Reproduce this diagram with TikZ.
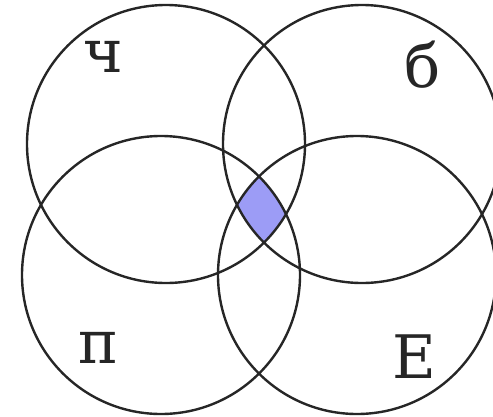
\documentclass[tikz,border=0pt]{standalone}
\usepackage{fontspec}
\setmainfont{DejaVu Serif}
\usepackage{tikz}
\usepackage{xcolor}
\definecolor{SetLine}{HTML}{262626}
\definecolor{SetFill}{HTML}{9C9CF6}

\begin{document}
\begin{tikzpicture}[
    x=1pt, y=-1pt,
    every node/.style={inner sep=0pt},
    setcircle/.style={draw=SetLine, line width=2.4pt, circle, minimum size=278pt},
    setname/.style={font=\fontsize{60}{60}\selectfont, text=SetLine}
  ]
    \useasboundingbox (0,0) rectangle (493,416);

    % common part of the four sets
    \begin{scope}
      \clip (166,144) circle[radius=139pt];
      \clip (362,144) circle[radius=139pt];
      \clip (161,275) circle[radius=139pt];
      \fill[SetFill] (357,275) circle[radius=139pt];
    \end{scope}

    \node[setcircle] (ch) at (166,144) {};
    \node[setcircle] (b) at (362,144) {};
    \node[setcircle] (p) at (161,275) {};
    \node[setcircle] (e) at (357,275) {};

    \node[setname] (chname) at (103,57) {ч};
    \node[setname] (bname) at (423,65) {б};
    \node[setname] (pname) at (98,348) {п};
    \node[setname] (ename) at (414,357) {Е};
  \end{tikzpicture}
\end{document}
